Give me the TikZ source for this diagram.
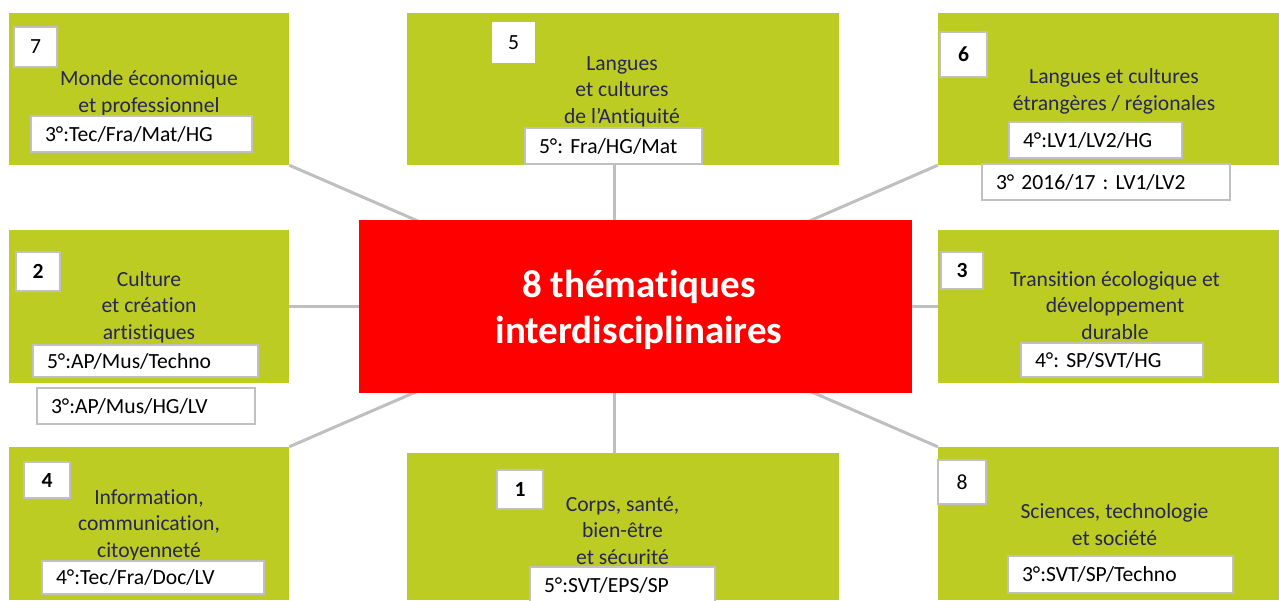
\documentclass[tikz,border=0pt]{standalone}
\usepackage{fontspec}
\setmainfont{Carlito}[Ligatures=NoCommon]
\usepackage{tikz}
\usetikzlibrary{positioning}
\definecolor{limegreen}{RGB}{188,204,34}
\definecolor{navytext}{RGB}{40,38,84}
\definecolor{linegray}{RGB}{191,191,191}
\definecolor{boxgray}{RGB}{192,192,192}
\definecolor{centrered}{RGB}{255,0,0}
\frenchspacing

\begin{document}
\begin{tikzpicture}[x=1pt,y=-1pt,
	theme/.style n args={2}{fill=limegreen,minimum width=#1,minimum height=#2,inner sep=0pt},
	numbox/.style n args={2}{draw=boxgray,line width=1.5pt,fill=white,inner sep=0pt,minimum width=#1,minimum height=#2,font=\fontsize{21.6}{26}\selectfont},
	subbox/.style n args={2}{draw=boxgray,line width=1.5pt,fill=white,inner xsep=14pt,inner ysep=0pt,text width=#1,minimum height=#2,align=left,font=\fontsize{21.6}{26}\selectfont},
	titletxt/.style={text=navytext,align=center,anchor=base,inner sep=0pt,font=\fontsize{21.6}{26.5}\selectfont},
	hubbox/.style={fill=centrered,minimum width=553,minimum height=173},
	hubtxt/.style={text=white,align=center,anchor=base,inner sep=0pt,font=\fontsize{39}{46}\selectfont\bfseries},
	link/.style={linegray,line width=3pt}]
	\useasboundingbox (0,0) rectangle (1279,600);
	
	% green theme boxes
	\node[theme={280}{152}] (b7) at (149,89) {};
	\node[theme={432}{152}] (b5) at (623,89) {};
	\node[theme={341}{152}] (b6) at (1108.5,89) {};
	\node[theme={280}{153}] (b2) at (149,306.5) {};
	\node[theme={341}{153}] (b3) at (1108.5,306.5) {};
	\node[theme={280}{153}] (b4) at (149,523.5) {};
	\node[theme={432}{147}] (b1) at (623,526.5) {};
	\node[theme={341}{153}] (b8) at (1108.5,523.5) {};
	
	% spokes, hidden behind the red box
	\coordinate (hub) at (614,306);
	\draw[link] (hub) -- (b7.south east);
	\draw[link] (hub) -- (hub |- b5.south);
	\draw[link] (hub) -- (b6.south west);
	\draw[link] (hub) -- (hub -| b2.east);
	\draw[link] (hub) -- (hub -| b3.west);
	\draw[link] (hub) -- (b4.north east);
	\draw[link] (hub) -- (hub |- b1.north);
	\draw[link] (hub) -- (b8.north west);
	
	\node[hubbox] (centre) at (635.5,306.5) {};
	\node[hubtxt] (centretxt) at (639,343) {8 thématiques\\interdisciplinaires};
	
	% numbers
	\node[numbox={43}{40}] (n7) at (35.5,47) {7};
	\node[numbox={43}{41},draw=none] (n5) at (513.5,42.5) {5};
	\node[numbox={47}{45}] (n6) at (963.5,54.5) {\textbf{6}};
	\node[numbox={44}{39}] (n2) at (38,271.5) {\textbf{2}};
	\node[numbox={42}{37}] (n3) at (962,270.5) {\textbf{3}};
	\node[numbox={46}{36}] (n4) at (47,480) {\textbf{4}};
	\node[numbox={46}{39}] (n1) at (520,489.5) {\textbf{1}};
	\node[numbox={48}{44}] (n8) at (962,482) {8};
	
	% titles (anchored on the last baseline)
	\node[titletxt] (t7) at (149,112) {Monde économique\\et professionnel};
	\node[titletxt] (t5) at (622,123) {Langues\\et cultures\\de l’Antiquité};
	\node[titletxt] (t6) at (1114,110) {Langues et cultures\\étrangères / régionales};
	\node[titletxt] (t2) at (149,339) {Culture\\et création\\artistiques};
	\node[titletxt] (t3) at (1115,339) {Transition écologique et\\développement\\durable};
	\node[titletxt] (t4) at (149,557) {Information,\\communication,\\citoyenneté};
	\node[titletxt] (t1) at (622.5,564) {Corps, santé,\\bien-être\\et sécurité};
	\node[titletxt] (t8) at (1114.5,545) {Sciences, technologie\\et société};
	
	% subjects per level
	\node[subbox={193}{36}] (s7) at (141.5,134) {3°:Tec/Fra/Mat/HG};
	\node[subbox={149}{36}] (s5) at (613.5,146) {5°: Fra/HG/Mat};
	\node[subbox={145}{36}] (s6a) at (1095.5,140) {4°:LV1/LV2/HG};
	\node[subbox={220}{36}] (s6b) at (1106,182) {3° 2016/17 : LV1/LV2};
	\node[subbox={197}{32}] (s2a) at (145.5,361) {5°:AP/Mus/Techno};
	\node[subbox={190}{36}] (s2b) at (146,406) {3°:AP/Mus/HG/LV};
	\node[subbox={154}{34}] (s3) at (1112,360) {4°: SP/SVT/HG};
	\node[subbox={194}{33}] (s4) at (153,577.5) {4°:Tec/Fra/Doc/LV};
	\node[subbox={157}{36}] (s1) at (622.5,585) {5°:SVT/EPS/SP};
	\node[subbox={197}{37}] (s8) at (1120.5,574.5) {3°:SVT/SP/Techno};
\end{tikzpicture}
\end{document}
